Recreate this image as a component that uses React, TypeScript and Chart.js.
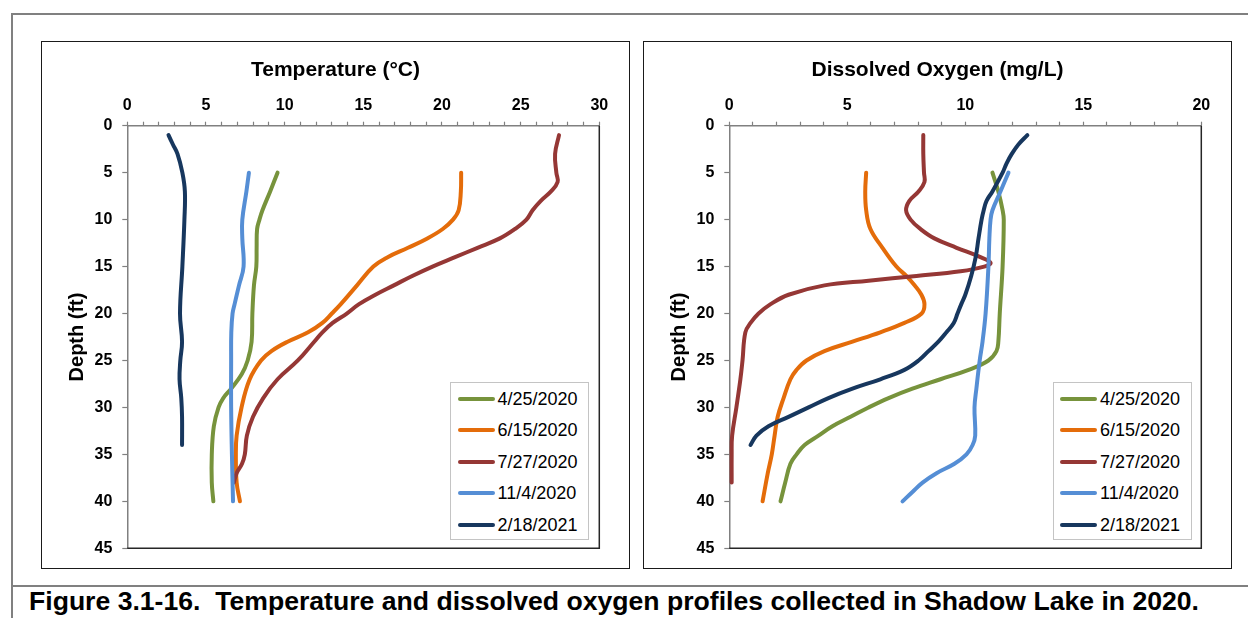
import React, { useEffect, useRef } from 'react';
import { Chart, registerables } from 'chart.js';

Chart.register(...registerables);

const FONT = '"Liberation Sans", Arial, Helvetica, sans-serif';

const seriesLabels = ['4/25/2020', '6/15/2020', '7/27/2020', '11/4/2020', '2/18/2021'];
const seriesColors = ['#77933C', '#E46C0A', '#953735', '#558ED5', '#17375E'];

const depthTicks = [0, 5, 10, 15, 20, 25, 30, 35, 40, 45];
const tempTicks = [0, 5, 10, 15, 20, 25, 30];
const doTicks = [0, 5, 10, 15, 20];

// ---------- Temperature (°C) ----------
const tDepth0425 = [5, 7, 9, 10, 11, 13, 15, 17, 20, 23, 25, 26.5, 28, 29, 30, 32, 35, 38, 40];
const tVal0425 = [9.55, 9.08, 8.59, 8.4, 8.25, 8.22, 8.2, 8.05, 7.95, 7.9, 7.65, 7.26, 6.6, 6.1, 5.8, 5.5, 5.37, 5.37, 5.47];

const tDepth0615 = [5, 7, 9, 10, 11, 12, 13, 14, 15, 17, 19, 20, 21, 22, 23, 24, 25, 27, 30, 33, 35, 38, 40];
const tVal0615 = [21.22, 21.2, 21.06, 20.7, 20.05, 19.07, 17.84, 16.55, 15.64, 14.6, 13.57, 13.0, 12.4, 11.49, 10.19, 9.16, 8.5, 7.78, 7.26, 6.95, 6.9, 6.95, 7.16];

const tDepth0727 = [1, 3, 5, 6, 7, 8, 9, 10, 11, 12, 13, 14, 15, 16, 17, 18, 19, 20, 21, 22, 23, 25, 27, 29, 31, 33, 35, 36, 37, 38];
const tVal0727 = [27.44, 27.19, 27.27, 27.35, 26.93, 26.28, 25.76, 25.37, 24.64, 23.68, 22.26, 20.83, 19.4, 18.11, 16.94, 15.77, 14.73, 13.95, 13.05, 12.4, 11.88, 10.84, 9.55, 8.64, 7.99, 7.6, 7.47, 7.29, 6.95, 6.77];

const tDepth1104 = [5, 7, 10, 12, 15, 17, 19, 20, 22, 25, 30, 35, 40];
const tVal1104 = [7.73, 7.57, 7.31, 7.31, 7.39, 7.1, 6.82, 6.69, 6.61, 6.6, 6.6, 6.65, 6.72];

const tDepth0218 = [1, 2, 3, 5, 7, 10, 15, 20, 23, 25, 27, 29, 31, 34];
const tVal0218 = [2.62, 2.9, 3.19, 3.5, 3.66, 3.63, 3.5, 3.35, 3.48, 3.37, 3.32, 3.43, 3.48, 3.48];

// ---------- Dissolved Oxygen (mg/L) ----------
const oDepth0425 = [5, 7, 9, 10, 15, 20, 23, 24, 25, 26, 27, 28, 29, 30, 31, 32, 33, 34, 35, 36, 38, 40];
const oVal0425 = [11.15, 11.4, 11.58, 11.63, 11.58, 11.46, 11.4, 11.32, 10.98, 10.14, 8.95, 7.76, 6.75, 5.9, 5.14, 4.37, 3.78, 3.19, 2.85, 2.59, 2.37, 2.17];

const oDepth0615 = [5, 7, 9, 11, 13, 15, 16, 17, 18, 19, 20, 21, 22, 23, 24, 25, 26, 27, 29, 31, 33, 35, 37, 40];
const oVal0615 = [5.8, 5.76, 5.8, 5.98, 6.49, 7.08, 7.5, 7.85, 8.14, 8.27, 8.15, 7.42, 6.4, 5.22, 4.03, 3.27, 2.85, 2.59, 2.3, 2.05, 1.92, 1.8, 1.63, 1.41];

const oDepth0727 = [1, 3, 5, 6, 7, 8, 9, 10, 11, 12, 13, 14, 14.6, 15, 15.5, 16, 16.5, 17, 18, 19, 20, 21, 22, 25, 27, 30, 33, 35, 38];
const oVal0727 = [8.22, 8.22, 8.25, 8.27, 8.02, 7.63, 7.49, 7.68, 8.1, 8.69, 9.63, 10.64, 11.07, 10.8, 9.8, 7.93, 5.9, 4.03, 2.51, 1.75, 1.24, 0.9, 0.68, 0.56, 0.47, 0.3, 0.12, 0.1, 0.1];

const oDepth1104 = [5, 7, 9, 10, 12, 15, 20, 23, 25, 28, 30, 33, 34, 35, 36, 37, 38, 39, 40];
const oVal1104 = [11.83, 11.49, 11.15, 11.07, 11.02, 10.98, 10.86, 10.73, 10.61, 10.47, 10.39, 10.42, 10.31, 10.05, 9.54, 8.78, 8.19, 7.76, 7.34];

const oDepth0218 = [1, 2, 3, 4, 5, 7, 8, 9, 10, 12, 14, 16, 18, 19, 20, 21, 22, 23, 24, 25, 26, 27, 28, 29, 30, 31, 32, 33, 34];
const oVal0218 = [12.63, 12.25, 11.97, 11.75, 11.58, 11.15, 10.9, 10.78, 10.69, 10.56, 10.44, 10.25, 10.0, 9.83, 9.67, 9.51, 9.2, 8.86, 8.44, 8.02, 7.42, 6.4, 5.22, 4.2, 3.36, 2.51, 1.66, 1.15, 0.9];

const tempSeries = [
  [tDepth0425, tVal0425],
  [tDepth0615, tVal0615],
  [tDepth0727, tVal0727],
  [tDepth1104, tVal1104],
  [tDepth0218, tVal0218],
];
const doSeries = [
  [oDepth0425, oVal0425],
  [oDepth0615, oVal0615],
  [oDepth0727, oVal0727],
  [oDepth1104, oVal1104],
  [oDepth0218, oVal0218],
];

function buildDatasets(series: number[][][]) {
  return series.map(([depths, vals], i) => ({
    label: seriesLabels[i],
    data: depths.map((d, k) => ({ x: vals[k], y: d })),
    showLine: true,
    borderColor: seriesColors[i],
    backgroundColor: seriesColors[i],
    borderWidth: 4,
    pointRadius: 0,
    pointHoverRadius: 0,
    tension: 0.4,
    borderCapStyle: 'round',
    borderJoinStyle: 'round',
    clip: false,
    order: series.length - i,
  }));
}

const plotBorder = {
  id: 'plotBorder',
  afterDraw(chart: any) {
    const { ctx, chartArea } = chart;
    ctx.save();
    ctx.strokeStyle = '#262626';
    ctx.lineWidth = 1.5;
    ctx.beginPath();
    ctx.moveTo(chartArea.right, chartArea.top);
    ctx.lineTo(chartArea.right, chartArea.bottom);
    ctx.lineTo(chartArea.left, chartArea.bottom);
    ctx.stroke();
    ctx.restore();
  },
};

function boxTitle(text: string) {
  return {
    id: 'boxTitle',
    afterDraw(chart: any) {
      const { ctx, width } = chart;
      ctx.save();
      ctx.font = `bold 21px ${FONT}`;
      ctx.fillStyle = '#000';
      ctx.textAlign = 'center';
      ctx.textBaseline = 'middle';
      ctx.fillText(text, width / 2, 28.6);
      ctx.restore();
    },
  };
}

function makeConfig(title: string, xTicks: number[], series: number[][][], canvasW: number, canvasH: number) {
  const xMax = xTicks[xTicks.length - 1];
  const plotLeft = 85.3;
  const plotRight = 557.3;
  const plotTop = 83.7;
  const plotBottom = 506.3;
  const padLeft = 23;
  const padTop = 16;
  return {
    type: 'scatter',
    data: { datasets: buildDatasets(series) },
    options: {
      animation: false,
      responsive: false,
      devicePixelRatio: 1,
      events: [],
      layout: {
        padding: { left: padLeft, top: padTop, right: canvasW - plotRight, bottom: canvasH - plotBottom },
      },
      plugins: { legend: { display: false }, tooltip: { enabled: false }, title: { display: false } },
      scales: {
        x: {
          type: 'linear',
          position: 'top',
          min: 0,
          max: xMax,
          ticks: {
            stepSize: 1,
            autoSkip: false,
            maxTicksLimit: 200,
            maxRotation: 0,
            minRotation: 0,
            padding: 7,
            color: '#000',
            font: { family: FONT, size: 16, weight: 'bold' },
            callback: (v: number) => (xTicks.includes(v) ? String(v) : ''),
          },
          grid: {
            drawOnChartArea: false,
            drawTicks: true,
            tickLength: 4,
            color: '#808080',
            tickColor: '#808080',
            tickWidth: 1.2,
          },
          border: { display: true, color: '#808080', width: 1.5 },
          title: { display: false },
          afterFit: (s: any) => {
            s.height = plotTop - padTop;
            s.paddingLeft = 0;
            s.paddingRight = 0;
          },
        },
        y: {
          type: 'linear',
          position: 'left',
          reverse: true,
          min: 0,
          max: depthTicks[depthTicks.length - 1],
          ticks: {
            stepSize: 5,
            autoSkip: false,
            padding: 10,
            color: '#000',
            font: { family: FONT, size: 16, weight: 'bold' },
            callback: (v: number) => (depthTicks.includes(v) ? String(v) : ''),
          },
          grid: {
            drawOnChartArea: false,
            drawTicks: true,
            tickLength: 5,
            color: '#808080',
            tickColor: '#808080',
            tickWidth: 1.2,
          },
          border: { display: true, color: '#808080', width: 1.5 },
          title: {
            display: true,
            text: 'Depth (ft)',
            color: '#000',
            font: { family: FONT, size: 20, weight: 'bold' },
            padding: { top: 0, bottom: 0 },
          },
          afterFit: (s: any) => {
            s.width = plotLeft - padLeft;
            s.paddingTop = 0;
            s.paddingBottom = 0;
          },
        },
      },
    },
    plugins: [plotBorder, boxTitle(title)],
  };
}

function ChartPanel(props: { left: number; title: string; xTicks: number[]; series: number[][][]; legendLeft: number }) {
  const ref = useRef<HTMLCanvasElement>(null);
  const W = 587;
  const H = 526;
  useEffect(() => {
    if (!ref.current) return;
    const chart = new Chart(ref.current, makeConfig(props.title, props.xTicks, props.series, W, H) as any);
    return () => chart.destroy();
  }, []);
  const rowY = [399.3, 430.8, 462.2, 493.9, 525.6];
  const legendTop = 381.5;
  return (
    <>
      <div
        style={{
          position: 'absolute',
          left: props.left - 1,
          top: 41,
          width: W + 1.5,
          height: H + 2,
          border: '1.5px solid #1a1a1a',
          boxSizing: 'border-box',
        }}
      />
      <canvas
        ref={ref}
        width={W}
        height={H}
        style={{ position: 'absolute', left: props.left, top: 42, width: W, height: H }}
      />
      <div
        style={{
          position: 'absolute',
          left: props.legendLeft,
          top: legendTop,
          width: 139,
          height: 158.5,
          border: '1.5px solid #c4c4c4',
          boxSizing: 'border-box',
          background: '#fff',
        }}
      >
        {seriesLabels.map((lab, i) => (
          <React.Fragment key={lab}>
            <div
              style={{
                position: 'absolute',
                left: 6.5,
                top: rowY[i] - legendTop - 1.5 - 2,
                width: 37,
                height: 4,
                borderRadius: 2,
                background: seriesColors[i],
              }}
            />
            <div
              style={{
                position: 'absolute',
                left: 46.5,
                top: rowY[i] - legendTop - 1.5 - 10,
                fontFamily: FONT,
                fontSize: 18,
                lineHeight: '20px',
                color: '#000',
                whiteSpace: 'nowrap',
              }}
            >
              {lab}
            </div>
          </React.Fragment>
        ))}
      </div>
    </>
  );
}

export default function App() {
  return (
    <div
      style={{
        position: 'absolute',
        left: 0,
        top: 0,
        width: 1248,
        height: 618,
        background: '#fff',
        overflow: 'hidden',
      }}
    >
      <div style={{ position: 'absolute', left: 11, top: 13, width: 1237, height: 2, background: '#808080' }} />
      <div style={{ position: 'absolute', left: 11, top: 13, width: 2, height: 605, background: '#808080' }} />
      <div style={{ position: 'absolute', left: 11, top: 585, width: 1237, height: 2, background: '#808080' }} />
      <ChartPanel left={42} title="Temperature (°C)" xTicks={tempTicks} series={tempSeries} legendLeft={450} />
      <ChartPanel left={644} title="Dissolved Oxygen (mg/L)" xTicks={doTicks} series={doSeries} legendLeft={1052.5} />
      <div
        style={{
          position: 'absolute',
          left: 29,
          top: 586,
          fontFamily: FONT,
          fontWeight: 'bold',
          fontSize: 26.6,
          lineHeight: '30px',
          color: '#000',
          whiteSpace: 'pre',
        }}
      >
        {'Figure 3.1-16.  Temperature and dissolved oxygen profiles collected in Shadow Lake in 2020.'}
      </div>
    </div>
  );
}
